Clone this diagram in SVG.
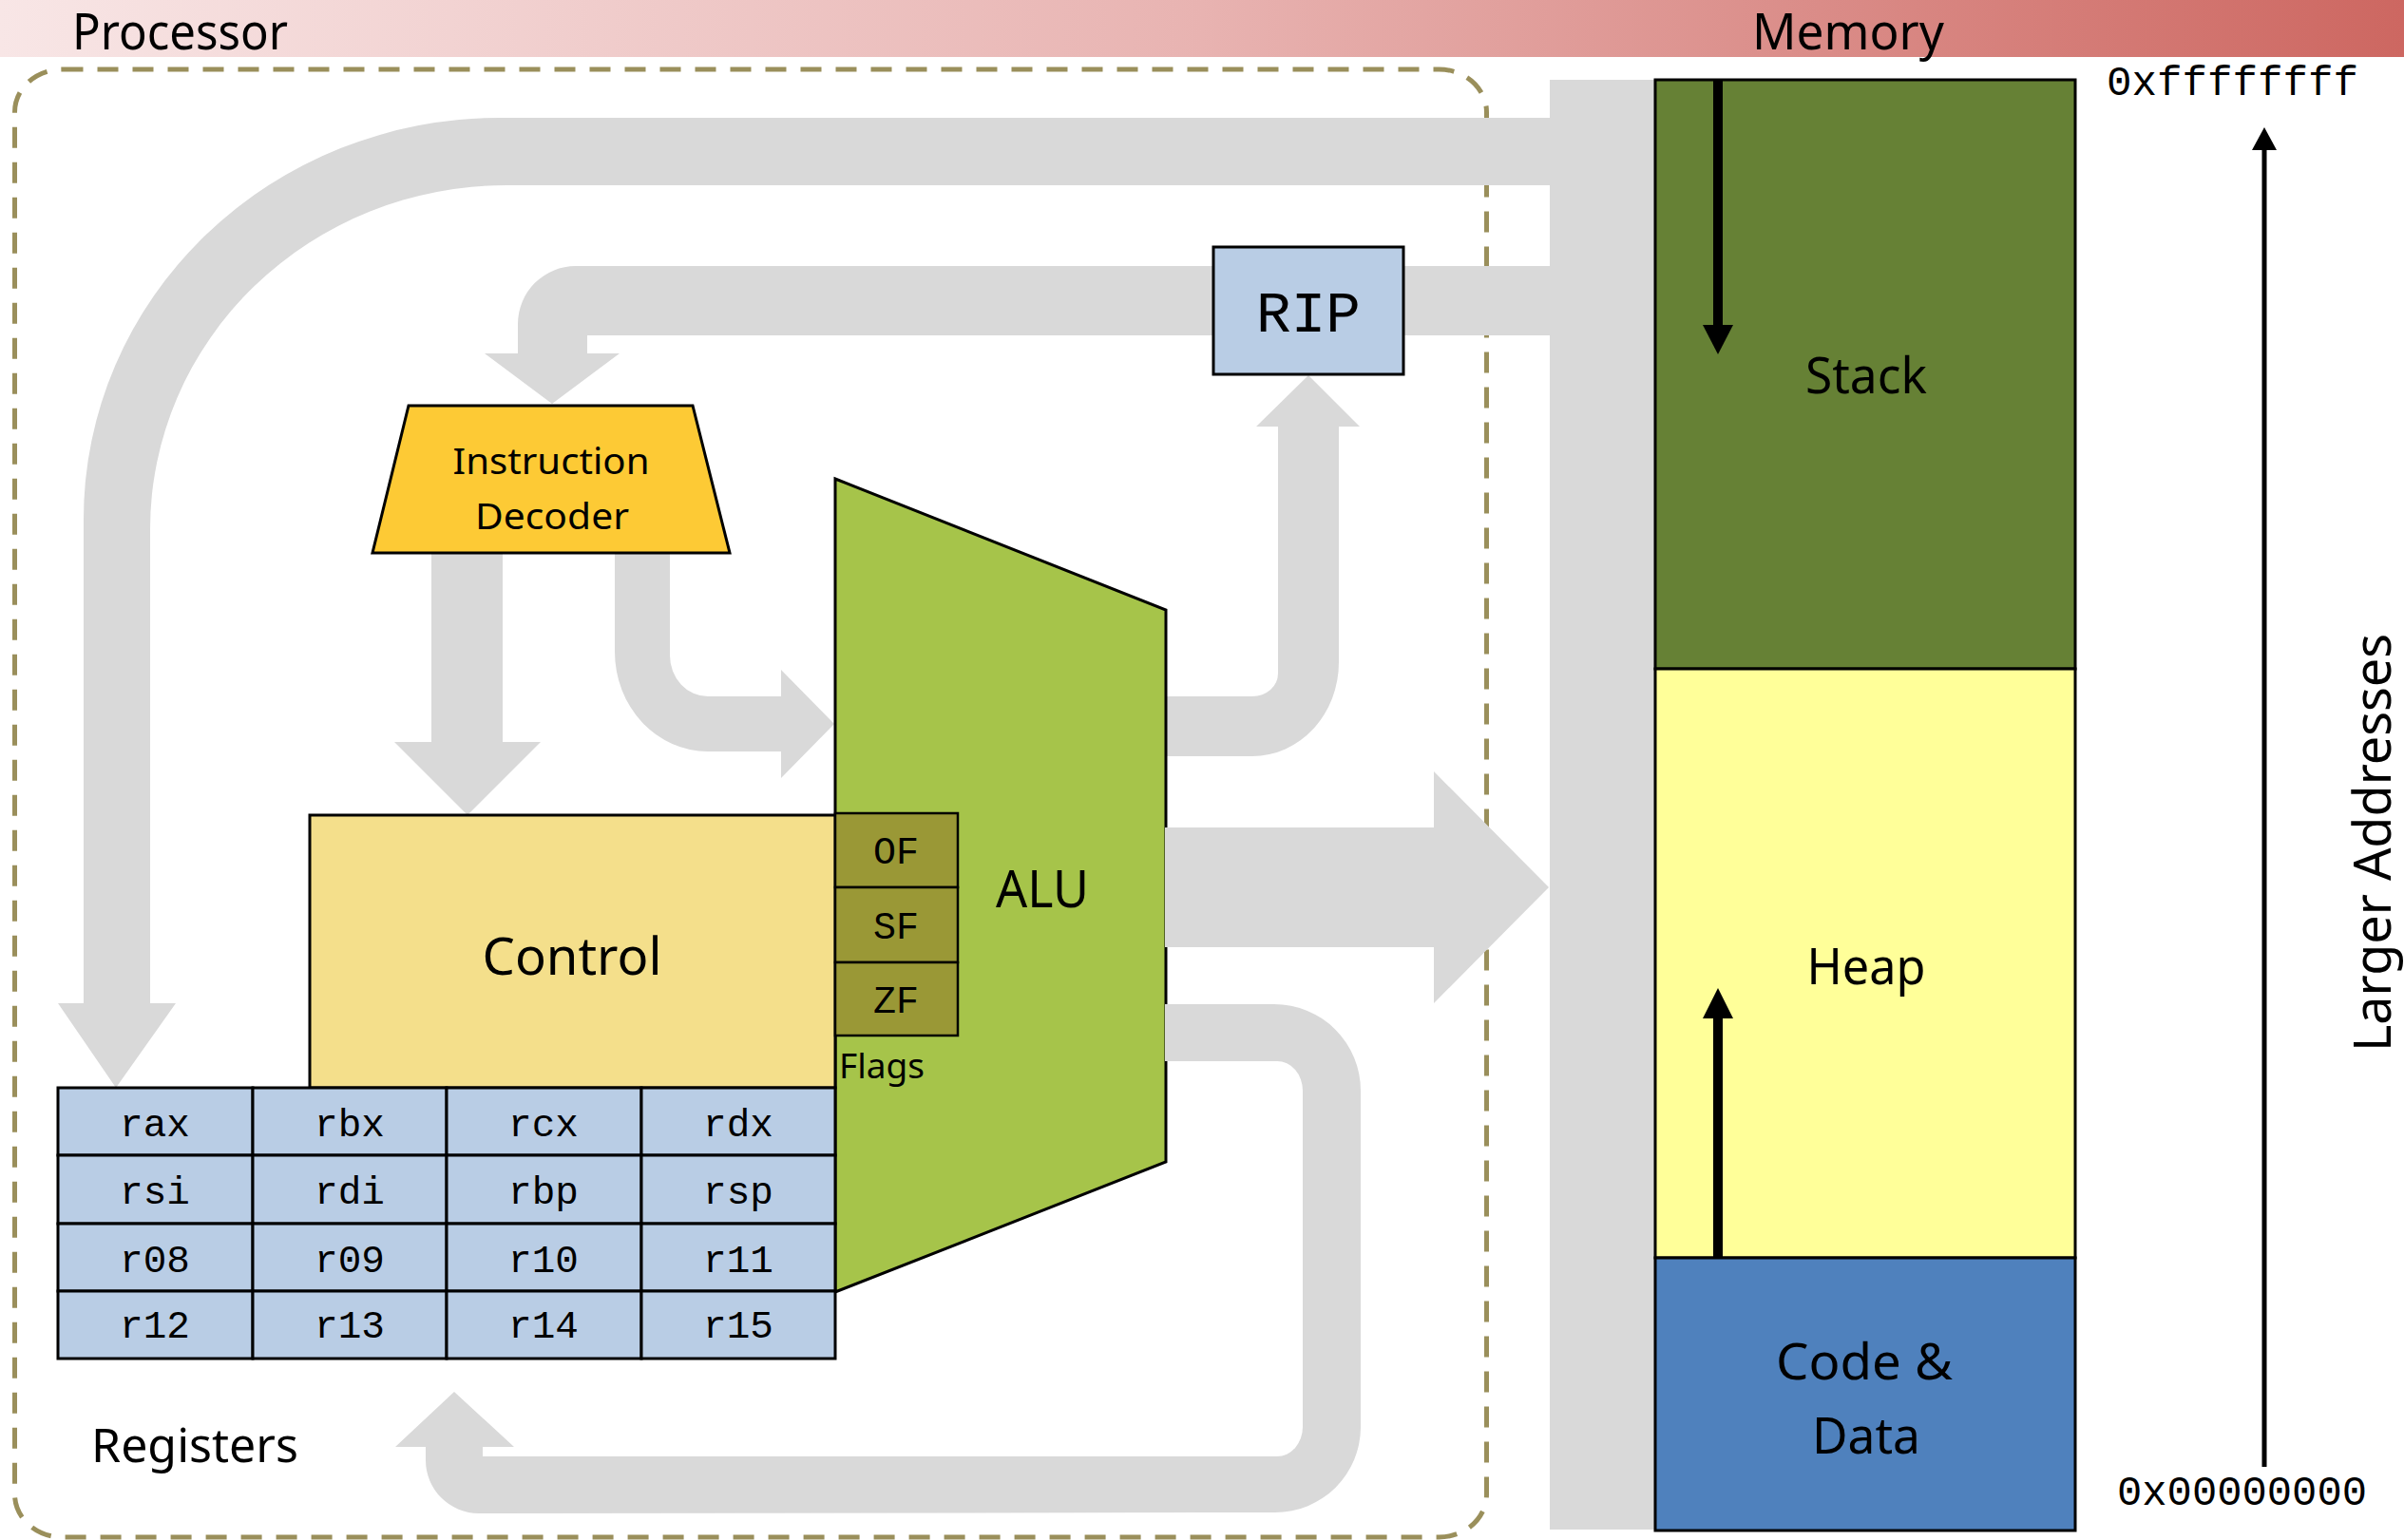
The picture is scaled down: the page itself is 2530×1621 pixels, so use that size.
<svg xmlns="http://www.w3.org/2000/svg" width="2530" height="1621" viewBox="0 0 2530 1621">
<defs>
<linearGradient id="hdr" x1="0" y1="0" x2="1" y2="0">
<stop offset="0" stop-color="#f8e6e6"/>
<stop offset="0.5" stop-color="#e8b3b1"/>
<stop offset="1" stop-color="#cd6761"/>
</linearGradient>
</defs>
<style>
.sans{font-family:"Noto Sans","Open Sans","DejaVu Sans",sans-serif;fill:#000}
.mono{font-family:"Liberation Mono","DejaVu Sans Mono",monospace;fill:#000}
.bus{fill:#d9d9d9;stroke:none}
.box{stroke:#000;stroke-width:3}
.reg{fill:#b9cde5;stroke:#000;stroke-width:3}
.flag{fill:#9a9836;stroke:#000;stroke-width:2.5}
</style>
<rect width="2530" height="1621" fill="#fff"/>
<rect x="0" y="0" width="2530" height="60" fill="url(#hdr)"/>
<text class="sans" x="76" y="52" font-size="52" textLength="227" lengthAdjust="spacingAndGlyphs">Processor</text>
<text class="sans" x="1844" y="52" font-size="52" textLength="202" lengthAdjust="spacingAndGlyphs">Memory</text>
<rect x="15.5" y="73" width="1549" height="1545" rx="50" ry="45" fill="none" stroke="#9a8f5b" stroke-width="5" stroke-dasharray="22 15"/>
<g id="connectors">
<rect class="bus" x="1631" y="84" width="112" height="1526"/>
<path class="bus" d="M1631,124 L526,124 A438,422 0 0 0 88,546 L88,1056 L61,1056 L122,1145 L185,1056 L158,1056 L158,557 A375,362 0 0 1 533,195 L1631,195 Z"/>
<path class="bus" d="M1631,280 L606,280 A61,61 0 0 0 545,341 L545,372 L510,372 L581,425 L652,372 L618,372 L618,353 L1631,353 Z"/>
<path class="bus" d="M454,582 L454,781 L415,781 L492,858 L569,781 L529,781 L529,582 Z"/>
<path class="bus" d="M647,582 L647,686 A98,105 0 0 0 745,791 L822,791 L822,819 L878,762 L822,705 L822,733 L745,733 A40,43 0 0 1 705,690 L705,582 Z"/>
<path class="bus" d="M1228,733 L1318,733 A27,24 0 0 0 1345,709 L1345,449 L1322,449 L1377,395 L1431,449 L1409,449 L1409,697 A91,99 0 0 1 1318,796 L1228,796 Z"/>
</g>
<g id="alu">
<polygon class="box" points="879,504 1227,642 1227,1223 879,1360" fill="#a6c44a"/>
<text class="sans" x="1097" y="955" font-size="55" text-anchor="middle" textLength="98" lengthAdjust="spacingAndGlyphs">ALU</text>
</g>
<g id="connectors2">
<path class="bus" d="M1226,871 L1509,871 L1509,812 L1630,934 L1509,1056 L1509,997 L1226,997 Z"/>
<path class="bus" d="M1226,1057 L1341,1057 A91,91 0 0 1 1432,1148 L1432,1502 A90,90 0 0 1 1342,1592 L504,1593 A56,56 0 0 1 448,1537 L448,1523 L416,1523 L478,1465 L541,1523 L508,1523 L508,1533 L1344,1533 A27,31 0 0 0 1371,1502 L1371,1148 A27,31 0 0 0 1344,1117 L1226,1117 Z"/>
</g>
<g id="rip">
<rect class="box" x="1277" y="260" width="200" height="134" fill="#b9cde5"/>
<text class="mono" x="1377" y="349" font-size="61" text-anchor="middle">RIP</text>
</g>
<g id="decoder">
<polygon class="box" points="430,427 729,427 768,582 392,582" fill="#fdca35"/>
<text class="sans" x="580" y="499" font-size="38" text-anchor="middle" textLength="207" lengthAdjust="spacingAndGlyphs">Instruction</text>
<text class="sans" x="581" y="557" font-size="38" text-anchor="middle" textLength="162" lengthAdjust="spacingAndGlyphs">Decoder</text>
</g>
<g id="control">
<rect class="box" x="326" y="858" width="553" height="287" fill="#f4df8b"/>
<text class="sans" x="602" y="1026" font-size="54" text-anchor="middle" textLength="189" lengthAdjust="spacingAndGlyphs">Control</text>
</g>
<g id="flags">
<rect class="flag" x="879" y="856" width="129" height="78"/>
<rect class="flag" x="879" y="934" width="129" height="79"/>
<rect class="flag" x="879" y="1013" width="129" height="77"/>
<text class="mono" x="943" y="909" font-size="40" text-anchor="middle">OF</text>
<text class="mono" x="943" y="988" font-size="40" text-anchor="middle">SF</text>
<text class="mono" x="943" y="1066" font-size="40" text-anchor="middle">ZF</text>
<text class="sans" x="883" y="1135" font-size="36" textLength="90" lengthAdjust="spacingAndGlyphs">Flags</text>
</g>
<g id="registers">
<rect class="reg" x="61" y="1145" width="205" height="71"/>
<rect class="reg" x="266" y="1145" width="204" height="71"/>
<rect class="reg" x="470" y="1145" width="205" height="71"/>
<rect class="reg" x="675" y="1145" width="204" height="71"/>
<rect class="reg" x="61" y="1216" width="205" height="72"/>
<rect class="reg" x="266" y="1216" width="204" height="72"/>
<rect class="reg" x="470" y="1216" width="205" height="72"/>
<rect class="reg" x="675" y="1216" width="204" height="72"/>
<rect class="reg" x="61" y="1288" width="205" height="71"/>
<rect class="reg" x="266" y="1288" width="204" height="71"/>
<rect class="reg" x="470" y="1288" width="205" height="71"/>
<rect class="reg" x="675" y="1288" width="204" height="71"/>
<rect class="reg" x="61" y="1359" width="205" height="71"/>
<rect class="reg" x="266" y="1359" width="204" height="71"/>
<rect class="reg" x="470" y="1359" width="205" height="71"/>
<rect class="reg" x="675" y="1359" width="204" height="71"/>
<g class="mono" font-size="41" text-anchor="middle">
<text x="163" y="1196">rax</text><text x="368" y="1196">rbx</text><text x="572" y="1196">rcx</text><text x="777" y="1196">rdx</text>
<text x="163" y="1267">rsi</text><text x="368" y="1267">rdi</text><text x="572" y="1267">rbp</text><text x="777" y="1267">rsp</text>
<text x="163" y="1339">r08</text><text x="368" y="1339">r09</text><text x="572" y="1339">r10</text><text x="777" y="1339">r11</text>
<text x="163" y="1408">r12</text><text x="368" y="1408">r13</text><text x="572" y="1408">r14</text><text x="777" y="1408">r15</text>
</g>
<text class="sans" x="96" y="1539" font-size="50" textLength="218" lengthAdjust="spacingAndGlyphs">Registers</text>
</g>
<g id="stack">
<rect class="box" x="1742" y="84" width="442" height="620" fill="#668135"/>
<text class="sans" x="1964" y="414" font-size="53" text-anchor="middle" textLength="128" lengthAdjust="spacingAndGlyphs">Stack</text>
<line x1="1808" y1="84" x2="1808" y2="345" stroke="#000" stroke-width="10"/>
<path d="M1792,342 L1824,342 L1808,373 Z" fill="#000"/>
</g>
<g id="heap">
<rect class="box" x="1742" y="704" width="442" height="620" fill="#ffff99"/>
<text class="sans" x="1964" y="1036" font-size="52" text-anchor="middle" textLength="125" lengthAdjust="spacingAndGlyphs">Heap</text>
<line x1="1808" y1="1328" x2="1808" y2="1068" stroke="#000" stroke-width="10"/>
<path d="M1792,1072 L1824,1072 L1808,1040 Z" fill="#000"/>
</g>
<g id="code">
<rect class="box" x="1742" y="1324" width="442" height="287" fill="#4f81bd"/>
<text class="sans" x="1962" y="1452" font-size="52" text-anchor="middle" textLength="186" lengthAdjust="spacingAndGlyphs">Code &amp;</text>
<text class="sans" x="1964" y="1530" font-size="52" text-anchor="middle" textLength="114" lengthAdjust="spacingAndGlyphs">Data</text>
</g>
<g id="axis">
<line x1="2383" y1="1544" x2="2383" y2="155" stroke="#000" stroke-width="5"/>
<path d="M2370,158 L2396,158 L2383,134 Z" fill="#000"/>
<text class="mono" x="2217" y="100" font-size="45" textLength="265" lengthAdjust="spacingAndGlyphs">0xffffffff</text>
<text class="mono" x="2228" y="1584" font-size="44" textLength="263" lengthAdjust="spacingAndGlyphs">0x00000000</text>
<text class="sans" transform="translate(2516,1107) rotate(-90)" x="0" y="0" font-size="54" textLength="440" lengthAdjust="spacingAndGlyphs">Larger Addresses</text>
</g>
</svg>
